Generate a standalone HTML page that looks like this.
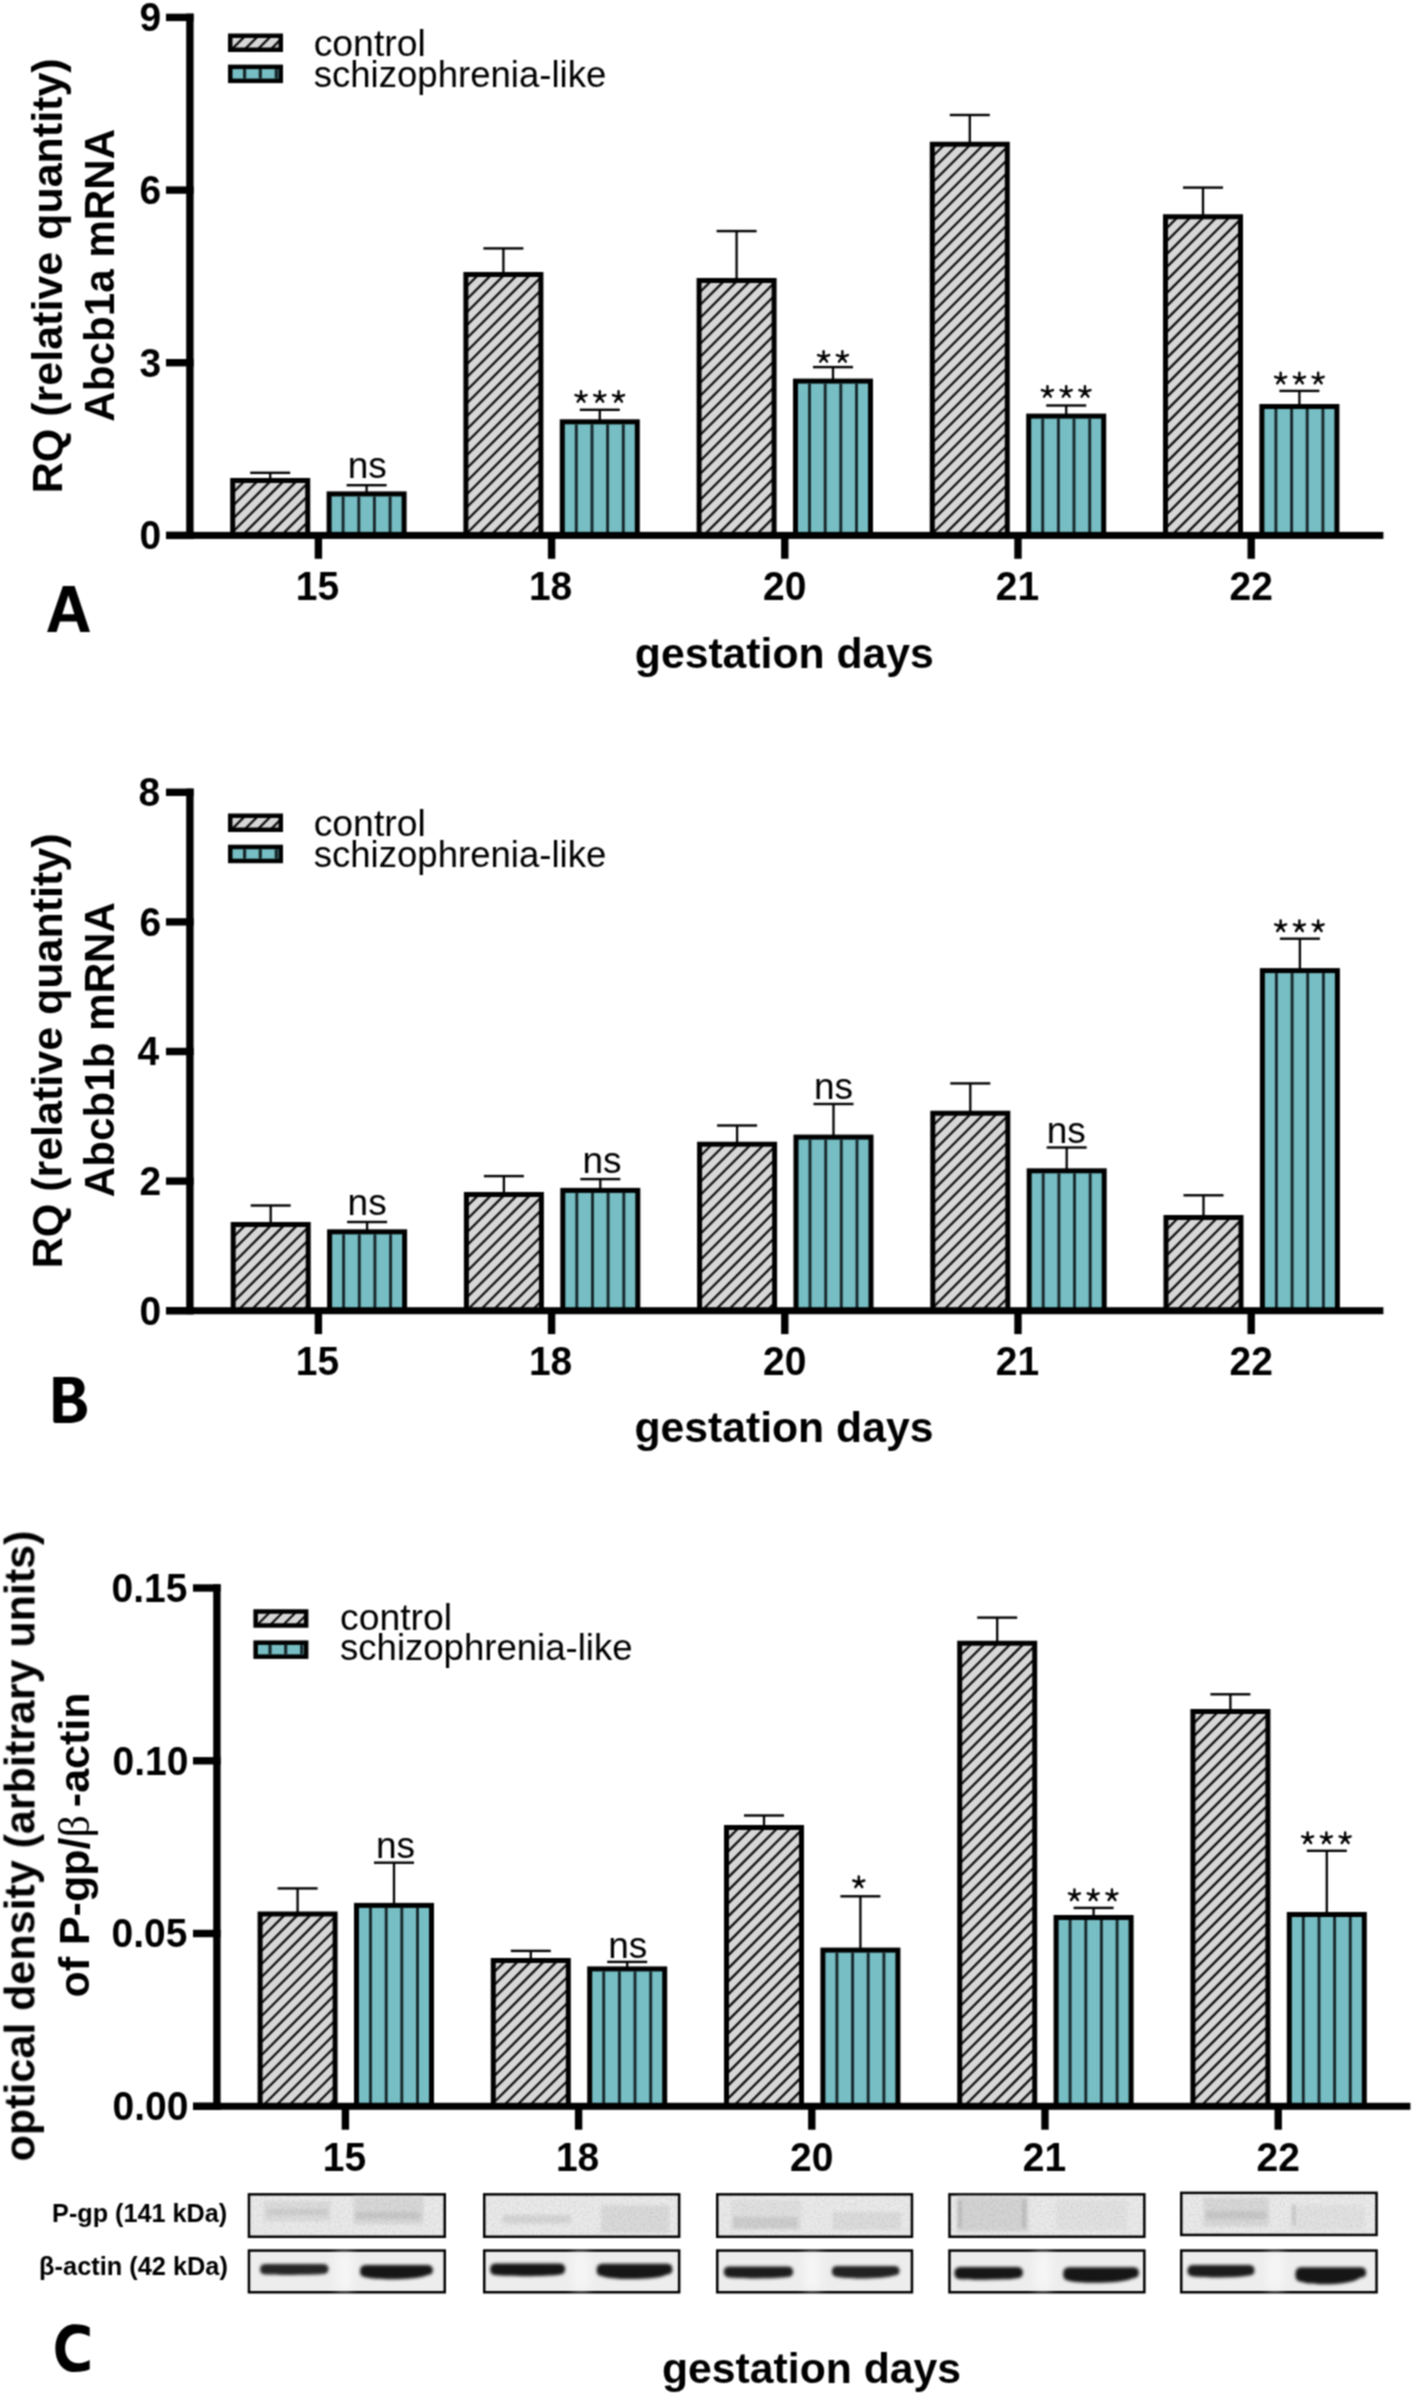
<!DOCTYPE html>
<html><head><meta charset="utf-8"><title>Abcb1 expression</title>
<style>html,body{margin:0;padding:0;background:#fff;} body{width:1414px;height:2396px;overflow:hidden;font-family:"Liberation Sans",sans-serif;} svg{display:block;}</style>
</head><body>
<svg width="1414" height="2396" viewBox="0 0 1414 2396"><defs><filter id="bb" x="-20%" y="-80%" width="140%" height="260%"><feGaussianBlur stdDeviation="1.6"/></filter><filter id="bw" x="-100%" y="-20%" width="300%" height="140%"><feGaussianBlur stdDeviation="4"/></filter><filter id="bl" x="-20%" y="-50%" width="140%" height="200%"><feGaussianBlur stdDeviation="1.8"/></filter><filter id="nz" x="0" y="0" width="100%" height="100%"><feTurbulence type="fractalNoise" baseFrequency="0.55" numOctaves="2" seed="7"/><feColorMatrix type="matrix" values="0 0 0 0 0  0 0 0 0 0  0 0 0 0 0  0 0 0 -2.2 1.25"/></filter><filter id="soft" x="0" y="0" width="1414" height="2396" filterUnits="userSpaceOnUse" color-interpolation-filters="sRGB"><feConvolveMatrix order="3" kernelMatrix="1 2 1 2 4 2 1 2 1" edgeMode="duplicate" preserveAlpha="false"/></filter></defs><rect width="1414" height="2396" fill="#ffffff"/><g filter="url(#soft)"><rect width="1414" height="2396" fill="#ffffff"/><rect x="269.05" y="472.8" width="2.3" height="6.1" fill="#000000"/>
<rect x="250.2" y="471.6" width="40" height="2.4" fill="#000000"/>
<rect x="234.2" y="481.9" width="72" height="53.5" fill="#d7d7d7"/>
<path d="M234.2,491.5L243.8,481.9M234.2,504.5L256.8,481.9M234.2,517.5L269.8,481.9M234.2,530.5L282.8,481.9M242.3,535.4L295.8,481.9M255.3,535.4L306.2,484.5M268.3,535.4L306.2,497.5M281.3,535.4L306.2,510.5M294.3,535.4L306.2,523.5" stroke="#111111" stroke-width="2.3" fill="none"/>
<path fill="#000000" d="M230.2,535.4V477.9H310.2V535.4H305.2V482.9H235.2V535.4Z"/>
<rect x="365.45" y="485.2" width="2.3" height="7.2" fill="#000000"/>
<rect x="346.6" y="484" width="40" height="2.4" fill="#000000"/>
<rect x="326.6" y="491.4" width="80" height="44" fill="#000000"/>
<rect x="331.6" y="496.4" width="70" height="39" fill="#76bec3"/>
<rect x="341.65" y="496.4" width="2.9" height="39" fill="#17262a"/>
<rect x="357.35" y="496.4" width="2.9" height="39" fill="#17262a"/>
<rect x="372.95" y="496.4" width="2.9" height="39" fill="#17262a"/>
<rect x="388.65" y="496.4" width="2.9" height="39" fill="#17262a"/>
<rect x="502.25" y="248.4" width="2.3" height="24.7" fill="#000000"/>
<rect x="483.4" y="247.2" width="40" height="2.4" fill="#000000"/>
<rect x="467.4" y="276.1" width="72" height="259.3" fill="#d7d7d7"/>
<path d="M467.4,285.7L477,276.1M467.4,298.7L490,276.1M467.4,311.7L503,276.1M467.4,324.7L516,276.1M467.4,337.7L529,276.1M467.4,350.7L539.4,278.7M467.4,363.7L539.4,291.7M467.4,376.7L539.4,304.7M467.4,389.7L539.4,317.7M467.4,402.7L539.4,330.7M467.4,415.7L539.4,343.7M467.4,428.7L539.4,356.7M467.4,441.7L539.4,369.7M467.4,454.7L539.4,382.7M467.4,467.7L539.4,395.7M467.4,480.7L539.4,408.7M467.4,493.7L539.4,421.7M467.4,506.7L539.4,434.7M467.4,519.7L539.4,447.7M467.4,532.7L539.4,460.7M477.7,535.4L539.4,473.7M490.7,535.4L539.4,486.7M503.7,535.4L539.4,499.7M516.7,535.4L539.4,512.7M529.7,535.4L539.4,525.7" stroke="#111111" stroke-width="2.3" fill="none"/>
<path fill="#000000" d="M463.4,535.4V272.1H543.4V535.4H538.4V277.1H468.4V535.4Z"/>
<rect x="598.65" y="409.8" width="2.3" height="10.5" fill="#000000"/>
<rect x="579.8" y="408.6" width="40" height="2.4" fill="#000000"/>
<rect x="559.8" y="419.3" width="80" height="116.1" fill="#000000"/>
<rect x="564.8" y="424.3" width="70" height="111.1" fill="#76bec3"/>
<rect x="574.85" y="424.3" width="2.9" height="111.1" fill="#17262a"/>
<rect x="590.55" y="424.3" width="2.9" height="111.1" fill="#17262a"/>
<rect x="606.15" y="424.3" width="2.9" height="111.1" fill="#17262a"/>
<rect x="621.85" y="424.3" width="2.9" height="111.1" fill="#17262a"/>
<rect x="735.45" y="231.1" width="2.3" height="47.8" fill="#000000"/>
<rect x="716.6" y="229.9" width="40" height="2.4" fill="#000000"/>
<rect x="700.6" y="281.9" width="72" height="253.5" fill="#d7d7d7"/>
<path d="M700.6,291.5L710.2,281.9M700.6,304.5L723.2,281.9M700.6,317.5L736.2,281.9M700.6,330.5L749.2,281.9M700.6,343.5L762.2,281.9M700.6,356.5L772.6,284.5M700.6,369.5L772.6,297.5M700.6,382.5L772.6,310.5M700.6,395.5L772.6,323.5M700.6,408.5L772.6,336.5M700.6,421.5L772.6,349.5M700.6,434.5L772.6,362.5M700.6,447.5L772.6,375.5M700.6,460.5L772.6,388.5M700.6,473.5L772.6,401.5M700.6,486.5L772.6,414.5M700.6,499.5L772.6,427.5M700.6,512.5L772.6,440.5M700.6,525.5L772.6,453.5M703.7,535.4L772.6,466.5M716.7,535.4L772.6,479.5M729.7,535.4L772.6,492.5M742.7,535.4L772.6,505.5M755.7,535.4L772.6,518.5M768.7,535.4L772.6,531.5" stroke="#111111" stroke-width="2.3" fill="none"/>
<path fill="#000000" d="M696.6,535.4V277.9H776.6V535.4H771.6V282.9H701.6V535.4Z"/>
<rect x="831.85" y="367.1" width="2.3" height="12.5" fill="#000000"/>
<rect x="813" y="365.9" width="40" height="2.4" fill="#000000"/>
<rect x="793" y="378.6" width="80" height="156.8" fill="#000000"/>
<rect x="798" y="383.6" width="70" height="151.8" fill="#76bec3"/>
<rect x="808.05" y="383.6" width="2.9" height="151.8" fill="#17262a"/>
<rect x="823.75" y="383.6" width="2.9" height="151.8" fill="#17262a"/>
<rect x="839.35" y="383.6" width="2.9" height="151.8" fill="#17262a"/>
<rect x="855.05" y="383.6" width="2.9" height="151.8" fill="#17262a"/>
<rect x="968.65" y="115" width="2.3" height="27.7" fill="#000000"/>
<rect x="949.8" y="113.8" width="40" height="2.4" fill="#000000"/>
<rect x="933.8" y="145.7" width="72" height="389.7" fill="#d7d7d7"/>
<path d="M933.8,155.3L943.4,145.7M933.8,168.3L956.4,145.7M933.8,181.3L969.4,145.7M933.8,194.3L982.4,145.7M933.8,207.3L995.4,145.7M933.8,220.3L1005.8,148.3M933.8,233.3L1005.8,161.3M933.8,246.3L1005.8,174.3M933.8,259.3L1005.8,187.3M933.8,272.3L1005.8,200.3M933.8,285.3L1005.8,213.3M933.8,298.3L1005.8,226.3M933.8,311.3L1005.8,239.3M933.8,324.3L1005.8,252.3M933.8,337.3L1005.8,265.3M933.8,350.3L1005.8,278.3M933.8,363.3L1005.8,291.3M933.8,376.3L1005.8,304.3M933.8,389.3L1005.8,317.3M933.8,402.3L1005.8,330.3M933.8,415.3L1005.8,343.3M933.8,428.3L1005.8,356.3M933.8,441.3L1005.8,369.3M933.8,454.3L1005.8,382.3M933.8,467.3L1005.8,395.3M933.8,480.3L1005.8,408.3M933.8,493.3L1005.8,421.3M933.8,506.3L1005.8,434.3M933.8,519.3L1005.8,447.3M933.8,532.3L1005.8,460.3M943.7,535.4L1005.8,473.3M956.7,535.4L1005.8,486.3M969.7,535.4L1005.8,499.3M982.7,535.4L1005.8,512.3M995.7,535.4L1005.8,525.3" stroke="#111111" stroke-width="2.3" fill="none"/>
<path fill="#000000" d="M929.8,535.4V141.7H1009.8V535.4H1004.8V146.7H934.8V535.4Z"/>
<rect x="1065.05" y="405.5" width="2.3" height="9.1" fill="#000000"/>
<rect x="1046.2" y="404.3" width="40" height="2.4" fill="#000000"/>
<rect x="1026.2" y="413.6" width="80" height="121.8" fill="#000000"/>
<rect x="1031.2" y="418.6" width="70" height="116.8" fill="#76bec3"/>
<rect x="1041.25" y="418.6" width="2.9" height="116.8" fill="#17262a"/>
<rect x="1056.95" y="418.6" width="2.9" height="116.8" fill="#17262a"/>
<rect x="1072.55" y="418.6" width="2.9" height="116.8" fill="#17262a"/>
<rect x="1088.25" y="418.6" width="2.9" height="116.8" fill="#17262a"/>
<rect x="1201.85" y="187.6" width="2.3" height="27.7" fill="#000000"/>
<rect x="1183" y="186.4" width="40" height="2.4" fill="#000000"/>
<rect x="1167" y="218.3" width="72" height="317.1" fill="#d7d7d7"/>
<path d="M1167,227.9L1176.6,218.3M1167,240.9L1189.6,218.3M1167,253.9L1202.6,218.3M1167,266.9L1215.6,218.3M1167,279.9L1228.6,218.3M1167,292.9L1239,220.9M1167,305.9L1239,233.9M1167,318.9L1239,246.9M1167,331.9L1239,259.9M1167,344.9L1239,272.9M1167,357.9L1239,285.9M1167,370.9L1239,298.9M1167,383.9L1239,311.9M1167,396.9L1239,324.9M1167,409.9L1239,337.9M1167,422.9L1239,350.9M1167,435.9L1239,363.9M1167,448.9L1239,376.9M1167,461.9L1239,389.9M1167,474.9L1239,402.9M1167,487.9L1239,415.9M1167,500.9L1239,428.9M1167,513.9L1239,441.9M1167,526.9L1239,454.9M1171.5,535.4L1239,467.9M1184.5,535.4L1239,480.9M1197.5,535.4L1239,493.9M1210.5,535.4L1239,506.9M1223.5,535.4L1239,519.9M1236.5,535.4L1239,532.9" stroke="#111111" stroke-width="2.3" fill="none"/>
<path fill="#000000" d="M1163,535.4V214.3H1243V535.4H1238V219.3H1168V535.4Z"/>
<rect x="1298.25" y="390.9" width="2.3" height="14.1" fill="#000000"/>
<rect x="1279.4" y="389.7" width="40" height="2.4" fill="#000000"/>
<rect x="1259.4" y="404" width="80" height="131.4" fill="#000000"/>
<rect x="1264.4" y="409" width="70" height="126.4" fill="#76bec3"/>
<rect x="1274.45" y="409" width="2.9" height="126.4" fill="#17262a"/>
<rect x="1290.15" y="409" width="2.9" height="126.4" fill="#17262a"/>
<rect x="1305.75" y="409" width="2.9" height="126.4" fill="#17262a"/>
<rect x="1321.45" y="409" width="2.9" height="126.4" fill="#17262a"/>
<rect x="186.2" y="13.6" width="7.4" height="525.3" fill="#000000"/>
<rect x="166" y="531.9" width="1217.4" height="7" fill="#000000"/>
<rect x="166" y="531.7" width="27.6" height="7.4" fill="#000000"/>
<text transform="translate(139.6,549.3) scale(1,1.04)" x="0" y="0" font-family="Liberation Sans" font-size="39" font-weight="bold" text-anchor="start" >0</text>
<rect x="166" y="359" width="27.6" height="7.4" fill="#000000"/>
<text transform="translate(139.6,376.6) scale(1,1.04)" x="0" y="0" font-family="Liberation Sans" font-size="39" font-weight="bold" text-anchor="start" >3</text>
<rect x="166" y="186.4" width="27.6" height="7.4" fill="#000000"/>
<text transform="translate(139.6,204) scale(1,1.04)" x="0" y="0" font-family="Liberation Sans" font-size="39" font-weight="bold" text-anchor="start" >6</text>
<rect x="166" y="13.7" width="27.6" height="7.4" fill="#000000"/>
<text transform="translate(139.6,31.3) scale(1,1.04)" x="0" y="0" font-family="Liberation Sans" font-size="39" font-weight="bold" text-anchor="start" >9</text>
<rect x="314.7" y="535.4" width="7.4" height="23.4" fill="#000000"/>
<text transform="translate(295.7,600) scale(1,1.035)" x="0" y="0" font-family="Liberation Sans" font-size="39" font-weight="bold" text-anchor="start" >15</text>
<rect x="547.9" y="535.4" width="7.4" height="23.4" fill="#000000"/>
<text transform="translate(528.9,600) scale(1,1.035)" x="0" y="0" font-family="Liberation Sans" font-size="39" font-weight="bold" text-anchor="start" >18</text>
<rect x="781.1" y="535.4" width="7.4" height="23.4" fill="#000000"/>
<text transform="translate(763.1,600) scale(1,1.035)" x="0" y="0" font-family="Liberation Sans" font-size="39" font-weight="bold" text-anchor="start" >20</text>
<rect x="1014.3" y="535.4" width="7.4" height="23.4" fill="#000000"/>
<text transform="translate(995.8,600) scale(1,1.035)" x="0" y="0" font-family="Liberation Sans" font-size="39" font-weight="bold" text-anchor="start" >21</text>
<rect x="1247.5" y="535.4" width="7.4" height="23.4" fill="#000000"/>
<text transform="translate(1229.5,600) scale(1,1.035)" x="0" y="0" font-family="Liberation Sans" font-size="39" font-weight="bold" text-anchor="start" >22</text>
<text x="347.8" y="478.3" font-family="Liberation Sans" font-size="37" font-weight="normal" text-anchor="start" >ns</text>
<path d="M581.05,396.93L581.05,391.12M581.05,396.93L586.57,395.13M581.05,396.93L575.53,395.13M581.05,396.93L584.46,401.62M581.05,396.93L577.64,401.62M599.8,396.93L599.8,391.12M599.8,396.93L605.32,395.13M599.8,396.93L594.28,395.13M599.8,396.93L603.21,401.62M599.8,396.93L596.39,401.62M618.55,396.93L618.55,391.12M618.55,396.93L624.07,395.13M618.55,396.93L613.03,395.13M618.55,396.93L621.96,401.62M618.55,396.93L615.14,401.62" stroke="#000" stroke-width="2.45" stroke-linecap="round" fill="none"/>
<path d="M823.62,356.93L823.62,351.12M823.62,356.93L829.14,355.13M823.62,356.93L818.11,355.13M823.62,356.93L827.03,361.62M823.62,356.93L820.22,361.62M842.38,356.93L842.38,351.12M842.38,356.93L847.89,355.13M842.38,356.93L836.86,355.13M842.38,356.93L845.78,361.62M842.38,356.93L838.97,361.62" stroke="#000" stroke-width="2.45" stroke-linecap="round" fill="none"/>
<path d="M1047.45,391.93L1047.45,386.12M1047.45,391.93L1052.97,390.13M1047.45,391.93L1041.93,390.13M1047.45,391.93L1050.86,396.62M1047.45,391.93L1044.04,396.62M1066.2,391.93L1066.2,386.12M1066.2,391.93L1071.72,390.13M1066.2,391.93L1060.68,390.13M1066.2,391.93L1069.61,396.62M1066.2,391.93L1062.79,396.62M1084.95,391.93L1084.95,386.12M1084.95,391.93L1090.47,390.13M1084.95,391.93L1079.43,390.13M1084.95,391.93L1088.36,396.62M1084.95,391.93L1081.54,396.62" stroke="#000" stroke-width="2.45" stroke-linecap="round" fill="none"/>
<path d="M1280.65,378.62L1280.65,372.82M1280.65,378.62L1286.17,376.83M1280.65,378.62L1275.13,376.83M1280.65,378.62L1284.06,383.32M1280.65,378.62L1277.24,383.32M1299.4,378.62L1299.4,372.82M1299.4,378.62L1304.92,376.83M1299.4,378.62L1293.88,376.83M1299.4,378.62L1302.81,383.32M1299.4,378.62L1295.99,383.32M1318.15,378.62L1318.15,372.82M1318.15,378.62L1323.67,376.83M1318.15,378.62L1312.63,376.83M1318.15,378.62L1321.56,383.32M1318.15,378.62L1314.74,383.32" stroke="#000" stroke-width="2.45" stroke-linecap="round" fill="none"/>
<rect x="231.5" y="37.1" width="48" height="11.5" fill="#d7d7d7"/>
<path d="M232.5,48.6L244,37.1M245.5,48.6L257,37.1M258.5,48.6L270,37.1M271.5,48.6L279.5,40.6" stroke="#111111" stroke-width="2.3" fill="none"/>
<path fill-rule="evenodd" fill="#000000" d="M228,33.6H283V52.1H228Z M232.5,38.1V47.6H278.5V38.1Z"/>
<rect x="228" y="64.6" width="55" height="18.5" fill="#000000"/>
<rect x="232.5" y="69.1" width="46" height="9.5" fill="#76bec3"/>
<rect x="243" y="69.1" width="3.2" height="9.5" fill="#17262a"/>
<rect x="258.7" y="69.1" width="3.2" height="9.5" fill="#17262a"/>
<rect x="274.7" y="69.1" width="3.2" height="9.5" fill="#17262a"/>
<text x="313.68" y="55.5" font-family="Liberation Sans" font-size="36.5" font-weight="normal" text-anchor="start"  textLength="112.1" lengthAdjust="spacingAndGlyphs">control</text>
<text x="313.7" y="86.8" font-family="Liberation Sans" font-size="36.5" font-weight="normal" text-anchor="start"  textLength="292.6" lengthAdjust="spacingAndGlyphs">schizophrenia-like</text>
<text transform="translate(62,493.2) rotate(-90)" x="0" y="0" font-family="Liberation Sans" font-size="43" font-weight="bold" >RQ (relative quantity)</text>
<text transform="translate(114,421.8) rotate(-90)" x="0" y="0" font-family="Liberation Sans" font-size="42.2" font-weight="bold" >Abcb1a mRNA</text>
<text x="634.8" y="667.7" font-family="Liberation Sans" font-size="43" font-weight="bold" text-anchor="start" textLength="299" lengthAdjust="spacingAndGlyphs">gestation days</text>
<path fill-rule="evenodd" fill="#000" d="M47.1,631.9 L62.9,586 L74.6,586 L90,631.9 L80.3,631.9 L76.8,621.4 L59.9,621.4 L56.6,631.9 Z M62.3,614.3 L68.4,595.2 L74.4,614.3 Z"/>
<rect x="269.55" y="1205.5" width="2.3" height="17.6" fill="#000000"/>
<rect x="250.7" y="1204.3" width="40" height="2.4" fill="#000000"/>
<rect x="234.7" y="1226.1" width="72" height="84.6" fill="#d7d7d7"/>
<path d="M234.7,1235.7L244.3,1226.1M234.7,1248.7L257.3,1226.1M234.7,1261.7L270.3,1226.1M234.7,1274.7L283.3,1226.1M234.7,1287.7L296.3,1226.1M234.7,1300.7L306.7,1228.7M237.7,1310.7L306.7,1241.7M250.7,1310.7L306.7,1254.7M263.7,1310.7L306.7,1267.7M276.7,1310.7L306.7,1280.7M289.7,1310.7L306.7,1293.7M302.7,1310.7L306.7,1306.7" stroke="#111111" stroke-width="2.3" fill="none"/>
<path fill="#000000" d="M230.7,1310.7V1222.1H310.7V1310.7H305.7V1227.1H235.7V1310.7Z"/>
<rect x="365.95" y="1222" width="2.3" height="8.3" fill="#000000"/>
<rect x="347.1" y="1220.8" width="40" height="2.4" fill="#000000"/>
<rect x="327.1" y="1229.3" width="80" height="81.4" fill="#000000"/>
<rect x="332.1" y="1234.3" width="70" height="76.4" fill="#76bec3"/>
<rect x="342.15" y="1234.3" width="2.9" height="76.4" fill="#17262a"/>
<rect x="357.85" y="1234.3" width="2.9" height="76.4" fill="#17262a"/>
<rect x="373.45" y="1234.3" width="2.9" height="76.4" fill="#17262a"/>
<rect x="389.15" y="1234.3" width="2.9" height="76.4" fill="#17262a"/>
<rect x="502.75" y="1176.1" width="2.3" height="16.8" fill="#000000"/>
<rect x="483.9" y="1174.9" width="40" height="2.4" fill="#000000"/>
<rect x="467.9" y="1195.9" width="72" height="114.8" fill="#d7d7d7"/>
<path d="M467.9,1205.5L477.5,1195.9M467.9,1218.5L490.5,1195.9M467.9,1231.5L503.5,1195.9M467.9,1244.5L516.5,1195.9M467.9,1257.5L529.5,1195.9M467.9,1270.5L539.9,1198.5M467.9,1283.5L539.9,1211.5M467.9,1296.5L539.9,1224.5M467.9,1309.5L539.9,1237.5M479.7,1310.7L539.9,1250.5M492.7,1310.7L539.9,1263.5M505.7,1310.7L539.9,1276.5M518.7,1310.7L539.9,1289.5M531.7,1310.7L539.9,1302.5" stroke="#111111" stroke-width="2.3" fill="none"/>
<path fill="#000000" d="M463.9,1310.7V1191.9H543.9V1310.7H538.9V1196.9H468.9V1310.7Z"/>
<rect x="599.15" y="1179.1" width="2.3" height="9.8" fill="#000000"/>
<rect x="580.3" y="1177.9" width="40" height="2.4" fill="#000000"/>
<rect x="560.3" y="1187.9" width="80" height="122.8" fill="#000000"/>
<rect x="565.3" y="1192.9" width="70" height="117.8" fill="#76bec3"/>
<rect x="575.35" y="1192.9" width="2.9" height="117.8" fill="#17262a"/>
<rect x="591.05" y="1192.9" width="2.9" height="117.8" fill="#17262a"/>
<rect x="606.65" y="1192.9" width="2.9" height="117.8" fill="#17262a"/>
<rect x="622.35" y="1192.9" width="2.9" height="117.8" fill="#17262a"/>
<rect x="735.95" y="1125.5" width="2.3" height="17.2" fill="#000000"/>
<rect x="717.1" y="1124.3" width="40" height="2.4" fill="#000000"/>
<rect x="701.1" y="1145.7" width="72" height="165" fill="#d7d7d7"/>
<path d="M701.1,1155.3L710.7,1145.7M701.1,1168.3L723.7,1145.7M701.1,1181.3L736.7,1145.7M701.1,1194.3L749.7,1145.7M701.1,1207.3L762.7,1145.7M701.1,1220.3L773.1,1148.3M701.1,1233.3L773.1,1161.3M701.1,1246.3L773.1,1174.3M701.1,1259.3L773.1,1187.3M701.1,1272.3L773.1,1200.3M701.1,1285.3L773.1,1213.3M701.1,1298.3L773.1,1226.3M701.7,1310.7L773.1,1239.3M714.7,1310.7L773.1,1252.3M727.7,1310.7L773.1,1265.3M740.7,1310.7L773.1,1278.3M753.7,1310.7L773.1,1291.3M766.7,1310.7L773.1,1304.3" stroke="#111111" stroke-width="2.3" fill="none"/>
<path fill="#000000" d="M697.1,1310.7V1141.7H777.1V1310.7H772.1V1146.7H702.1V1310.7Z"/>
<rect x="832.35" y="1104" width="2.3" height="31.6" fill="#000000"/>
<rect x="813.5" y="1102.8" width="40" height="2.4" fill="#000000"/>
<rect x="793.5" y="1134.6" width="80" height="176.1" fill="#000000"/>
<rect x="798.5" y="1139.6" width="70" height="171.1" fill="#76bec3"/>
<rect x="808.55" y="1139.6" width="2.9" height="171.1" fill="#17262a"/>
<rect x="824.25" y="1139.6" width="2.9" height="171.1" fill="#17262a"/>
<rect x="839.85" y="1139.6" width="2.9" height="171.1" fill="#17262a"/>
<rect x="855.55" y="1139.6" width="2.9" height="171.1" fill="#17262a"/>
<rect x="969.15" y="1083.4" width="2.3" height="28.3" fill="#000000"/>
<rect x="950.3" y="1082.2" width="40" height="2.4" fill="#000000"/>
<rect x="934.3" y="1114.7" width="72" height="196" fill="#d7d7d7"/>
<path d="M934.3,1124.3L943.9,1114.7M934.3,1137.3L956.9,1114.7M934.3,1150.3L969.9,1114.7M934.3,1163.3L982.9,1114.7M934.3,1176.3L995.9,1114.7M934.3,1189.3L1006.3,1117.3M934.3,1202.3L1006.3,1130.3M934.3,1215.3L1006.3,1143.3M934.3,1228.3L1006.3,1156.3M934.3,1241.3L1006.3,1169.3M934.3,1254.3L1006.3,1182.3M934.3,1267.3L1006.3,1195.3M934.3,1280.3L1006.3,1208.3M934.3,1293.3L1006.3,1221.3M934.3,1306.3L1006.3,1234.3M942.9,1310.7L1006.3,1247.3M955.9,1310.7L1006.3,1260.3M968.9,1310.7L1006.3,1273.3M981.9,1310.7L1006.3,1286.3M994.9,1310.7L1006.3,1299.3" stroke="#111111" stroke-width="2.3" fill="none"/>
<path fill="#000000" d="M930.3,1310.7V1110.7H1010.3V1310.7H1005.3V1115.7H935.3V1310.7Z"/>
<rect x="1065.55" y="1147.5" width="2.3" height="21.8" fill="#000000"/>
<rect x="1046.7" y="1146.3" width="40" height="2.4" fill="#000000"/>
<rect x="1026.7" y="1168.3" width="80" height="142.4" fill="#000000"/>
<rect x="1031.7" y="1173.3" width="70" height="137.4" fill="#76bec3"/>
<rect x="1041.75" y="1173.3" width="2.9" height="137.4" fill="#17262a"/>
<rect x="1057.45" y="1173.3" width="2.9" height="137.4" fill="#17262a"/>
<rect x="1073.05" y="1173.3" width="2.9" height="137.4" fill="#17262a"/>
<rect x="1088.75" y="1173.3" width="2.9" height="137.4" fill="#17262a"/>
<rect x="1202.35" y="1195.3" width="2.3" height="20.7" fill="#000000"/>
<rect x="1183.5" y="1194.1" width="40" height="2.4" fill="#000000"/>
<rect x="1167.5" y="1219" width="72" height="91.7" fill="#d7d7d7"/>
<path d="M1167.5,1228.6L1177.1,1219M1167.5,1241.6L1190.1,1219M1167.5,1254.6L1203.1,1219M1167.5,1267.6L1216.1,1219M1167.5,1280.6L1229.1,1219M1167.5,1293.6L1239.5,1221.6M1167.5,1306.6L1239.5,1234.6M1176.4,1310.7L1239.5,1247.6M1189.4,1310.7L1239.5,1260.6M1202.4,1310.7L1239.5,1273.6M1215.4,1310.7L1239.5,1286.6M1228.4,1310.7L1239.5,1299.6" stroke="#111111" stroke-width="2.3" fill="none"/>
<path fill="#000000" d="M1163.5,1310.7V1215H1243.5V1310.7H1238.5V1220H1168.5V1310.7Z"/>
<rect x="1298.75" y="938.7" width="2.3" height="30.4" fill="#000000"/>
<rect x="1279.9" y="937.5" width="40" height="2.4" fill="#000000"/>
<rect x="1259.9" y="968.1" width="80" height="342.6" fill="#000000"/>
<rect x="1264.9" y="973.1" width="70" height="337.6" fill="#76bec3"/>
<rect x="1274.95" y="973.1" width="2.9" height="337.6" fill="#17262a"/>
<rect x="1290.65" y="973.1" width="2.9" height="337.6" fill="#17262a"/>
<rect x="1306.25" y="973.1" width="2.9" height="337.6" fill="#17262a"/>
<rect x="1321.95" y="973.1" width="2.9" height="337.6" fill="#17262a"/>
<rect x="186.2" y="788.6" width="7.4" height="525.6" fill="#000000"/>
<rect x="166" y="1307.2" width="1217.4" height="7" fill="#000000"/>
<rect x="166" y="1307" width="27.6" height="7.4" fill="#000000"/>
<text transform="translate(139.6,1324.6) scale(1,1.04)" x="0" y="0" font-family="Liberation Sans" font-size="39" font-weight="bold" text-anchor="start" >0</text>
<rect x="166" y="1177.4" width="27.6" height="7.4" fill="#000000"/>
<text transform="translate(139.6,1195) scale(1,1.04)" x="0" y="0" font-family="Liberation Sans" font-size="39" font-weight="bold" text-anchor="start" >2</text>
<rect x="166" y="1047.8" width="27.6" height="7.4" fill="#000000"/>
<text transform="translate(137.6,1065.4) scale(1,1.04)" x="0" y="0" font-family="Liberation Sans" font-size="39" font-weight="bold" text-anchor="start" >4</text>
<rect x="166" y="918.2" width="27.6" height="7.4" fill="#000000"/>
<text transform="translate(139.6,935.8) scale(1,1.04)" x="0" y="0" font-family="Liberation Sans" font-size="39" font-weight="bold" text-anchor="start" >6</text>
<rect x="166" y="788.6" width="27.6" height="7.4" fill="#000000"/>
<text transform="translate(138.6,806.2) scale(1,1.04)" x="0" y="0" font-family="Liberation Sans" font-size="39" font-weight="bold" text-anchor="start" >8</text>
<rect x="314.7" y="1310.7" width="7.4" height="23.4" fill="#000000"/>
<text transform="translate(295.7,1375.3) scale(1,1.035)" x="0" y="0" font-family="Liberation Sans" font-size="39" font-weight="bold" text-anchor="start" >15</text>
<rect x="547.9" y="1310.7" width="7.4" height="23.4" fill="#000000"/>
<text transform="translate(528.9,1375.3) scale(1,1.035)" x="0" y="0" font-family="Liberation Sans" font-size="39" font-weight="bold" text-anchor="start" >18</text>
<rect x="781.1" y="1310.7" width="7.4" height="23.4" fill="#000000"/>
<text transform="translate(763.1,1375.3) scale(1,1.035)" x="0" y="0" font-family="Liberation Sans" font-size="39" font-weight="bold" text-anchor="start" >20</text>
<rect x="1014.3" y="1310.7" width="7.4" height="23.4" fill="#000000"/>
<text transform="translate(995.8,1375.3) scale(1,1.035)" x="0" y="0" font-family="Liberation Sans" font-size="39" font-weight="bold" text-anchor="start" >21</text>
<rect x="1247.5" y="1310.7" width="7.4" height="23.4" fill="#000000"/>
<text transform="translate(1229.5,1375.3) scale(1,1.035)" x="0" y="0" font-family="Liberation Sans" font-size="39" font-weight="bold" text-anchor="start" >22</text>
<text x="347.6" y="1215.4" font-family="Liberation Sans" font-size="37" font-weight="normal" text-anchor="start" >ns</text>
<text x="582.4" y="1172.6" font-family="Liberation Sans" font-size="37" font-weight="normal" text-anchor="start" >ns</text>
<text x="814" y="1098.9" font-family="Liberation Sans" font-size="37" font-weight="normal" text-anchor="start" >ns</text>
<text x="1046.7" y="1143.1" font-family="Liberation Sans" font-size="37" font-weight="normal" text-anchor="start" >ns</text>
<path d="M1280.65,926.22L1280.65,920.42M1280.65,926.22L1286.17,924.43M1280.65,926.22L1275.13,924.43M1280.65,926.22L1284.06,930.92M1280.65,926.22L1277.24,930.92M1299.4,926.22L1299.4,920.42M1299.4,926.22L1304.92,924.43M1299.4,926.22L1293.88,924.43M1299.4,926.22L1302.81,930.92M1299.4,926.22L1295.99,930.92M1318.15,926.22L1318.15,920.42M1318.15,926.22L1323.67,924.43M1318.15,926.22L1312.63,924.43M1318.15,926.22L1321.56,930.92M1318.15,926.22L1314.74,930.92" stroke="#000" stroke-width="2.45" stroke-linecap="round" fill="none"/>
<rect x="231.5" y="817.1" width="48" height="11.5" fill="#d7d7d7"/>
<path d="M232.5,828.6L244,817.1M245.5,828.6L257,817.1M258.5,828.6L270,817.1M271.5,828.6L279.5,820.6" stroke="#111111" stroke-width="2.3" fill="none"/>
<path fill-rule="evenodd" fill="#000000" d="M228,813.6H283V832.1H228Z M232.5,818.1V827.6H278.5V818.1Z"/>
<rect x="228" y="844.7" width="55" height="18.5" fill="#000000"/>
<rect x="232.5" y="849.2" width="46" height="9.5" fill="#76bec3"/>
<rect x="243" y="849.2" width="3.2" height="9.5" fill="#17262a"/>
<rect x="258.7" y="849.2" width="3.2" height="9.5" fill="#17262a"/>
<rect x="274.7" y="849.2" width="3.2" height="9.5" fill="#17262a"/>
<text x="313.68" y="835.5" font-family="Liberation Sans" font-size="36.5" font-weight="normal" text-anchor="start"  textLength="112.1" lengthAdjust="spacingAndGlyphs">control</text>
<text x="313.7" y="866.8" font-family="Liberation Sans" font-size="36.5" font-weight="normal" text-anchor="start"  textLength="292.6" lengthAdjust="spacingAndGlyphs">schizophrenia-like</text>
<text transform="translate(62,1268.3) rotate(-90)" x="0" y="0" font-family="Liberation Sans" font-size="43" font-weight="bold" >RQ (relative quantity)</text>
<text transform="translate(114,1197.3) rotate(-90)" x="0" y="0" font-family="Liberation Sans" font-size="42.2" font-weight="bold" >Abcb1b mRNA</text>
<text x="634.4" y="1442.4" font-family="Liberation Sans" font-size="43" font-weight="bold" text-anchor="start" textLength="299" lengthAdjust="spacingAndGlyphs">gestation days</text>
<path fill-rule="evenodd" fill="#000" d="M53.3,1376.9 L71,1376.9 C80,1376.9 84.6,1381.3 84.6,1388.3 C84.6,1393.3 81.6,1396.8 77.6,1398.3 C83.3,1399.5 87,1403.7 87,1409.6 C87,1417.6 81,1422.9 71,1422.9 L55.5,1422.9 Q53.3,1422.9 53.3,1420.7 Z M62.6,1384 L69.6,1384 C73,1384 74.8,1386 74.8,1389.6 C74.8,1393.3 72.6,1395.6 68.8,1395.6 L62.6,1395.6 Z M62.6,1403 L70.3,1403 C74.6,1403 77.3,1405.4 77.3,1409.2 C77.3,1413.1 74.6,1415.7 70.3,1415.7 L62.6,1415.7 Z"/>
<rect x="296.45" y="1888.4" width="2.3" height="24" fill="#000000"/>
<rect x="277.6" y="1887.2" width="40" height="2.4" fill="#000000"/>
<rect x="261.6" y="1915.4" width="72" height="190.9" fill="#d7d7d7"/>
<path d="M261.6,1925L271.2,1915.4M261.6,1938L284.2,1915.4M261.6,1951L297.2,1915.4M261.6,1964L310.2,1915.4M261.6,1977L323.2,1915.4M261.6,1990L333.6,1918M261.6,2003L333.6,1931M261.6,2016L333.6,1944M261.6,2029L333.6,1957M261.6,2042L333.6,1970M261.6,2055L333.6,1983M261.6,2068L333.6,1996M261.6,2081L333.6,2009M261.6,2094L333.6,2022M262.3,2106.3L333.6,2035M275.3,2106.3L333.6,2048M288.3,2106.3L333.6,2061M301.3,2106.3L333.6,2074M314.3,2106.3L333.6,2087M327.3,2106.3L333.6,2100" stroke="#111111" stroke-width="2.3" fill="none"/>
<path fill="#000000" d="M257.6,2106.3V1911.4H337.6V2106.3H332.6V1916.4H262.6V2106.3Z"/>
<rect x="392.85" y="1862.7" width="2.3" height="41.2" fill="#000000"/>
<rect x="374" y="1861.5" width="40" height="2.4" fill="#000000"/>
<rect x="354" y="1902.9" width="80" height="203.4" fill="#000000"/>
<rect x="359" y="1907.9" width="70" height="198.4" fill="#76bec3"/>
<rect x="369.05" y="1907.9" width="2.9" height="198.4" fill="#17262a"/>
<rect x="384.75" y="1907.9" width="2.9" height="198.4" fill="#17262a"/>
<rect x="400.35" y="1907.9" width="2.9" height="198.4" fill="#17262a"/>
<rect x="416.05" y="1907.9" width="2.9" height="198.4" fill="#17262a"/>
<rect x="529.65" y="1950.9" width="2.3" height="8" fill="#000000"/>
<rect x="510.8" y="1949.7" width="40" height="2.4" fill="#000000"/>
<rect x="494.8" y="1961.9" width="72" height="144.4" fill="#d7d7d7"/>
<path d="M494.8,1971.5L504.4,1961.9M494.8,1984.5L517.4,1961.9M494.8,1997.5L530.4,1961.9M494.8,2010.5L543.4,1961.9M494.8,2023.5L556.4,1961.9M494.8,2036.5L566.8,1964.5M494.8,2049.5L566.8,1977.5M494.8,2062.5L566.8,1990.5M494.8,2075.5L566.8,2003.5M494.8,2088.5L566.8,2016.5M494.8,2101.5L566.8,2029.5M503,2106.3L566.8,2042.5M516,2106.3L566.8,2055.5M529,2106.3L566.8,2068.5M542,2106.3L566.8,2081.5M555,2106.3L566.8,2094.5" stroke="#111111" stroke-width="2.3" fill="none"/>
<path fill="#000000" d="M490.8,2106.3V1957.9H570.8V2106.3H565.8V1962.9H495.8V2106.3Z"/>
<rect x="626.05" y="1961.9" width="2.3" height="5.5" fill="#000000"/>
<rect x="607.2" y="1960.7" width="40" height="2.4" fill="#000000"/>
<rect x="587.2" y="1966.4" width="80" height="139.9" fill="#000000"/>
<rect x="592.2" y="1971.4" width="70" height="134.9" fill="#76bec3"/>
<rect x="602.25" y="1971.4" width="2.9" height="134.9" fill="#17262a"/>
<rect x="617.95" y="1971.4" width="2.9" height="134.9" fill="#17262a"/>
<rect x="633.55" y="1971.4" width="2.9" height="134.9" fill="#17262a"/>
<rect x="649.25" y="1971.4" width="2.9" height="134.9" fill="#17262a"/>
<rect x="762.85" y="1815.5" width="2.3" height="10.5" fill="#000000"/>
<rect x="744" y="1814.3" width="40" height="2.4" fill="#000000"/>
<rect x="728" y="1829" width="72" height="277.3" fill="#d7d7d7"/>
<path d="M728,1838.6L737.6,1829M728,1851.6L750.6,1829M728,1864.6L763.6,1829M728,1877.6L776.6,1829M728,1890.6L789.6,1829M728,1903.6L800,1831.6M728,1916.6L800,1844.6M728,1929.6L800,1857.6M728,1942.6L800,1870.6M728,1955.6L800,1883.6M728,1968.6L800,1896.6M728,1981.6L800,1909.6M728,1994.6L800,1922.6M728,2007.6L800,1935.6M728,2020.6L800,1948.6M728,2033.6L800,1961.6M728,2046.6L800,1974.6M728,2059.6L800,1987.6M728,2072.6L800,2000.6M728,2085.6L800,2013.6M728,2098.6L800,2026.6M733.3,2106.3L800,2039.6M746.3,2106.3L800,2052.6M759.3,2106.3L800,2065.6M772.3,2106.3L800,2078.6M785.3,2106.3L800,2091.6M798.3,2106.3L800,2104.6" stroke="#111111" stroke-width="2.3" fill="none"/>
<path fill="#000000" d="M724,2106.3V1825H804V2106.3H799V1830H729V2106.3Z"/>
<rect x="859.25" y="1896.3" width="2.3" height="52.3" fill="#000000"/>
<rect x="840.4" y="1895.1" width="40" height="2.4" fill="#000000"/>
<rect x="820.4" y="1947.6" width="80" height="158.7" fill="#000000"/>
<rect x="825.4" y="1952.6" width="70" height="153.7" fill="#76bec3"/>
<rect x="835.45" y="1952.6" width="2.9" height="153.7" fill="#17262a"/>
<rect x="851.15" y="1952.6" width="2.9" height="153.7" fill="#17262a"/>
<rect x="866.75" y="1952.6" width="2.9" height="153.7" fill="#17262a"/>
<rect x="882.45" y="1952.6" width="2.9" height="153.7" fill="#17262a"/>
<rect x="996.05" y="1617.6" width="2.3" height="24.1" fill="#000000"/>
<rect x="977.2" y="1616.4" width="40" height="2.4" fill="#000000"/>
<rect x="961.2" y="1644.7" width="72" height="461.6" fill="#d7d7d7"/>
<path d="M961.2,1654.3L970.8,1644.7M961.2,1667.3L983.8,1644.7M961.2,1680.3L996.8,1644.7M961.2,1693.3L1009.8,1644.7M961.2,1706.3L1022.8,1644.7M961.2,1719.3L1033.2,1647.3M961.2,1732.3L1033.2,1660.3M961.2,1745.3L1033.2,1673.3M961.2,1758.3L1033.2,1686.3M961.2,1771.3L1033.2,1699.3M961.2,1784.3L1033.2,1712.3M961.2,1797.3L1033.2,1725.3M961.2,1810.3L1033.2,1738.3M961.2,1823.3L1033.2,1751.3M961.2,1836.3L1033.2,1764.3M961.2,1849.3L1033.2,1777.3M961.2,1862.3L1033.2,1790.3M961.2,1875.3L1033.2,1803.3M961.2,1888.3L1033.2,1816.3M961.2,1901.3L1033.2,1829.3M961.2,1914.3L1033.2,1842.3M961.2,1927.3L1033.2,1855.3M961.2,1940.3L1033.2,1868.3M961.2,1953.3L1033.2,1881.3M961.2,1966.3L1033.2,1894.3M961.2,1979.3L1033.2,1907.3M961.2,1992.3L1033.2,1920.3M961.2,2005.3L1033.2,1933.3M961.2,2018.3L1033.2,1946.3M961.2,2031.3L1033.2,1959.3M961.2,2044.3L1033.2,1972.3M961.2,2057.3L1033.2,1985.3M961.2,2070.3L1033.2,1998.3M961.2,2083.3L1033.2,2011.3M961.2,2096.3L1033.2,2024.3M964.2,2106.3L1033.2,2037.3M977.2,2106.3L1033.2,2050.3M990.2,2106.3L1033.2,2063.3M1003.2,2106.3L1033.2,2076.3M1016.2,2106.3L1033.2,2089.3M1029.2,2106.3L1033.2,2102.3" stroke="#111111" stroke-width="2.3" fill="none"/>
<path fill="#000000" d="M957.2,2106.3V1640.7H1037.2V2106.3H1032.2V1645.7H962.2V2106.3Z"/>
<rect x="1092.45" y="1907.9" width="2.3" height="8.1" fill="#000000"/>
<rect x="1073.6" y="1906.7" width="40" height="2.4" fill="#000000"/>
<rect x="1053.6" y="1915" width="80" height="191.3" fill="#000000"/>
<rect x="1058.6" y="1920" width="70" height="186.3" fill="#76bec3"/>
<rect x="1068.65" y="1920" width="2.9" height="186.3" fill="#17262a"/>
<rect x="1084.35" y="1920" width="2.9" height="186.3" fill="#17262a"/>
<rect x="1099.95" y="1920" width="2.9" height="186.3" fill="#17262a"/>
<rect x="1115.65" y="1920" width="2.9" height="186.3" fill="#17262a"/>
<rect x="1229.25" y="1694.3" width="2.3" height="15.7" fill="#000000"/>
<rect x="1210.4" y="1693.1" width="40" height="2.4" fill="#000000"/>
<rect x="1194.4" y="1713" width="72" height="393.3" fill="#d7d7d7"/>
<path d="M1194.4,1722.6L1204,1713M1194.4,1735.6L1217,1713M1194.4,1748.6L1230,1713M1194.4,1761.6L1243,1713M1194.4,1774.6L1256,1713M1194.4,1787.6L1266.4,1715.6M1194.4,1800.6L1266.4,1728.6M1194.4,1813.6L1266.4,1741.6M1194.4,1826.6L1266.4,1754.6M1194.4,1839.6L1266.4,1767.6M1194.4,1852.6L1266.4,1780.6M1194.4,1865.6L1266.4,1793.6M1194.4,1878.6L1266.4,1806.6M1194.4,1891.6L1266.4,1819.6M1194.4,1904.6L1266.4,1832.6M1194.4,1917.6L1266.4,1845.6M1194.4,1930.6L1266.4,1858.6M1194.4,1943.6L1266.4,1871.6M1194.4,1956.6L1266.4,1884.6M1194.4,1969.6L1266.4,1897.6M1194.4,1982.6L1266.4,1910.6M1194.4,1995.6L1266.4,1923.6M1194.4,2008.6L1266.4,1936.6M1194.4,2021.6L1266.4,1949.6M1194.4,2034.6L1266.4,1962.6M1194.4,2047.6L1266.4,1975.6M1194.4,2060.6L1266.4,1988.6M1194.4,2073.6L1266.4,2001.6M1194.4,2086.6L1266.4,2014.6M1194.4,2099.6L1266.4,2027.6M1200.7,2106.3L1266.4,2040.6M1213.7,2106.3L1266.4,2053.6M1226.7,2106.3L1266.4,2066.6M1239.7,2106.3L1266.4,2079.6M1252.7,2106.3L1266.4,2092.6M1265.7,2106.3L1266.4,2105.6" stroke="#111111" stroke-width="2.3" fill="none"/>
<path fill="#000000" d="M1190.4,2106.3V1709H1270.4V2106.3H1265.4V1714H1195.4V2106.3Z"/>
<rect x="1325.65" y="1850.8" width="2.3" height="62.2" fill="#000000"/>
<rect x="1306.8" y="1849.6" width="40" height="2.4" fill="#000000"/>
<rect x="1286.8" y="1912" width="80" height="194.3" fill="#000000"/>
<rect x="1291.8" y="1917" width="70" height="189.3" fill="#76bec3"/>
<rect x="1301.85" y="1917" width="2.9" height="189.3" fill="#17262a"/>
<rect x="1317.55" y="1917" width="2.9" height="189.3" fill="#17262a"/>
<rect x="1333.15" y="1917" width="2.9" height="189.3" fill="#17262a"/>
<rect x="1348.85" y="1917" width="2.9" height="189.3" fill="#17262a"/>
<rect x="213.2" y="1584.3" width="7.4" height="525.5" fill="#000000"/>
<rect x="193" y="2102.8" width="1217.4" height="7" fill="#000000"/>
<rect x="193" y="2102.6" width="27.6" height="7.4" fill="#000000"/>
<text transform="translate(112.6,2120.2) scale(1,1.04)" x="0" y="0" font-family="Liberation Sans" font-size="39" font-weight="bold" text-anchor="start" >0.00</text>
<rect x="193" y="1929.8" width="27.6" height="7.4" fill="#000000"/>
<text transform="translate(111.6,1947.4) scale(1,1.04)" x="0" y="0" font-family="Liberation Sans" font-size="39" font-weight="bold" text-anchor="start" >0.05</text>
<rect x="193" y="1757.1" width="27.6" height="7.4" fill="#000000"/>
<text transform="translate(112.6,1774.7) scale(1,1.04)" x="0" y="0" font-family="Liberation Sans" font-size="39" font-weight="bold" text-anchor="start" >0.10</text>
<rect x="193" y="1584.3" width="27.6" height="7.4" fill="#000000"/>
<text transform="translate(111.6,1601.9) scale(1,1.04)" x="0" y="0" font-family="Liberation Sans" font-size="39" font-weight="bold" text-anchor="start" >0.15</text>
<rect x="341.7" y="2106.3" width="7.4" height="23.4" fill="#000000"/>
<text transform="translate(322.7,2170.9) scale(1,1.035)" x="0" y="0" font-family="Liberation Sans" font-size="39" font-weight="bold" text-anchor="start" >15</text>
<rect x="574.9" y="2106.3" width="7.4" height="23.4" fill="#000000"/>
<text transform="translate(555.9,2170.9) scale(1,1.035)" x="0" y="0" font-family="Liberation Sans" font-size="39" font-weight="bold" text-anchor="start" >18</text>
<rect x="808.1" y="2106.3" width="7.4" height="23.4" fill="#000000"/>
<text transform="translate(790.1,2170.9) scale(1,1.035)" x="0" y="0" font-family="Liberation Sans" font-size="39" font-weight="bold" text-anchor="start" >20</text>
<rect x="1041.3" y="2106.3" width="7.4" height="23.4" fill="#000000"/>
<text transform="translate(1022.8,2170.9) scale(1,1.035)" x="0" y="0" font-family="Liberation Sans" font-size="39" font-weight="bold" text-anchor="start" >21</text>
<rect x="1274.5" y="2106.3" width="7.4" height="23.4" fill="#000000"/>
<text transform="translate(1256.5,2170.9) scale(1,1.035)" x="0" y="0" font-family="Liberation Sans" font-size="39" font-weight="bold" text-anchor="start" >22</text>
<text x="375.9" y="1858.3" font-family="Liberation Sans" font-size="37" font-weight="normal" text-anchor="start" >ns</text>
<text x="608.3" y="1958.3" font-family="Liberation Sans" font-size="37" font-weight="normal" text-anchor="start" >ns</text>
<path d="M858.8,1882.33L858.8,1876.53M858.8,1882.33L864.32,1880.53M858.8,1882.33L853.28,1880.53M858.8,1882.33L862.21,1887.02M858.8,1882.33L855.39,1887.02" stroke="#000" stroke-width="2.45" stroke-linecap="round" fill="none"/>
<path d="M1074.45,1895.22L1074.45,1889.42M1074.45,1895.22L1079.97,1893.43M1074.45,1895.22L1068.93,1893.43M1074.45,1895.22L1077.86,1899.92M1074.45,1895.22L1071.04,1899.92M1093.2,1895.22L1093.2,1889.42M1093.2,1895.22L1098.72,1893.43M1093.2,1895.22L1087.68,1893.43M1093.2,1895.22L1096.61,1899.92M1093.2,1895.22L1089.79,1899.92M1111.95,1895.22L1111.95,1889.42M1111.95,1895.22L1117.47,1893.43M1111.95,1895.22L1106.43,1893.43M1111.95,1895.22L1115.36,1899.92M1111.95,1895.22L1108.54,1899.92" stroke="#000" stroke-width="2.45" stroke-linecap="round" fill="none"/>
<path d="M1307.65,1838.22L1307.65,1832.42M1307.65,1838.22L1313.17,1836.43M1307.65,1838.22L1302.13,1836.43M1307.65,1838.22L1311.06,1842.92M1307.65,1838.22L1304.24,1842.92M1326.4,1838.22L1326.4,1832.42M1326.4,1838.22L1331.92,1836.43M1326.4,1838.22L1320.88,1836.43M1326.4,1838.22L1329.81,1842.92M1326.4,1838.22L1322.99,1842.92M1345.15,1838.22L1345.15,1832.42M1345.15,1838.22L1350.67,1836.43M1345.15,1838.22L1339.63,1836.43M1345.15,1838.22L1348.56,1842.92M1345.15,1838.22L1341.74,1842.92" stroke="#000" stroke-width="2.45" stroke-linecap="round" fill="none"/>
<rect x="256.9" y="1612.8" width="48" height="11.5" fill="#d7d7d7"/>
<path d="M257.9,1624.3L269.4,1612.8M270.9,1624.3L282.4,1612.8M283.9,1624.3L295.4,1612.8M296.9,1624.3L304.9,1616.3" stroke="#111111" stroke-width="2.3" fill="none"/>
<path fill-rule="evenodd" fill="#000000" d="M253.4,1609.3H308.4V1627.8H253.4Z M257.9,1613.8V1623.3H303.9V1613.8Z"/>
<rect x="253.4" y="1640.4" width="55" height="18.5" fill="#000000"/>
<rect x="257.9" y="1644.9" width="46" height="9.5" fill="#76bec3"/>
<rect x="268.4" y="1644.9" width="3.2" height="9.5" fill="#17262a"/>
<rect x="284.1" y="1644.9" width="3.2" height="9.5" fill="#17262a"/>
<rect x="300.1" y="1644.9" width="3.2" height="9.5" fill="#17262a"/>
<text x="339.98" y="1630" font-family="Liberation Sans" font-size="36.5" font-weight="normal" text-anchor="start"  textLength="112.1" lengthAdjust="spacingAndGlyphs">control</text>
<text x="340" y="1660.3" font-family="Liberation Sans" font-size="36.5" font-weight="normal" text-anchor="start"  textLength="292.6" lengthAdjust="spacingAndGlyphs">schizophrenia-like</text>
<text transform="translate(34.5,2161.4) rotate(-90)" x="0" y="0" font-family="Liberation Sans" font-size="43" font-weight="bold" >optical density (arbitrary units)</text>
<text transform="translate(89,1997.6) rotate(-90)" x="0" y="0" font-family="Liberation Sans" font-size="43" font-weight="bold">of P-gp/<tspan font-family="Liberation Serif" font-weight="normal" font-size="44">β</tspan><tspan dx="8">-actin</tspan></text>
<text x="662" y="2382.9" font-family="Liberation Sans" font-size="43" font-weight="bold" text-anchor="start" textLength="299" lengthAdjust="spacingAndGlyphs">gestation days</text>
<path fill="#000" d="M89.7,2327.4 C86,2325.2 80.5,2324.3 74.6,2324.3 C63.6,2324.3 55.4,2334.3 55.4,2348.4 C55.4,2362.5 63.4,2372.1 74.4,2372.1 C80.6,2372.1 86,2371.1 89.7,2369.3 L89.7,2359.9 C86.5,2361.8 82.6,2363.2 78.6,2363.2 C70.6,2363.2 65.1,2357.6 65.1,2348.3 C65.1,2339.1 70.6,2333.2 78.6,2333.2 C82.6,2333.2 86.5,2334.6 89.7,2336.6 Z"/>
<text x="52.12" y="2221.6" font-family="Liberation Sans" font-size="25.5" font-weight="bold" text-anchor="start"  textLength="175.0" lengthAdjust="spacingAndGlyphs">P-gp (141 kDa)</text>
<text x="39.11" y="2275" font-family="Liberation Sans" font-size="25.5" font-weight="bold" text-anchor="start"  textLength="188.8" lengthAdjust="spacingAndGlyphs">β-actin (42 kDa)</text>
<rect x="247.7" y="2193.1" width="198.3" height="44.9" fill="#000000"/>
<rect x="250.2" y="2195.6" width="193.3" height="39.9" fill="#eaeaea"/>
<rect x="263.8" y="2201" width="66.7" height="20.3" fill="rgb(220,220,220)" filter="url(#bl)"/>
<rect x="353.7" y="2196.7" width="69.6" height="27.5" fill="rgb(216,216,216)" filter="url(#bl)"/>
<rect x="268" y="2209" width="60" height="6" fill="rgb(206,206,206)" filter="url(#bl)"/>
<rect x="356" y="2212" width="64" height="7" fill="rgb(200,200,200)" filter="url(#bl)"/>
<rect x="250.2" y="2195.6" width="193.3" height="39.9" fill="#000" opacity="0.10" filter="url(#nz)"/>
<rect x="247.7" y="2249.3" width="198.3" height="44.2" fill="#000000"/>
<rect x="250.2" y="2251.8" width="193.3" height="39.2" fill="#ededed"/>
<rect x="336.25" y="2253.8" width="16" height="35.2" fill="#f6f6f6" filter="url(#bw)"/>
<path d="M266,2264.1 L322.5,2264.1 Q328.5,2264.1 328.5,2269.05 Q328.5,2274 322.5,2274 C314.8,2275.12 273.7,2275.12 266,2274.5 Q260,2274.5 260,2269.3 Q260,2264.1 266,2264.1 Z" fill="#262626" filter="url(#bb)"/>
<path d="M366,2264.9 L426.9,2264.9 Q432.9,2264.9 432.9,2270.1 Q432.9,2275.3 426.9,2275.3 C418.32,2280.17 374.58,2280.17 366,2277.3 Q360,2277.3 360,2271.1 Q360,2264.9 366,2264.9 Z" fill="#151515" filter="url(#bb)"/>
<rect x="483" y="2193.1" width="197.4" height="44.9" fill="#000000"/>
<rect x="485.5" y="2195.6" width="192.4" height="39.9" fill="#eaeaea"/>
<rect x="502.6" y="2214.8" width="68.2" height="8.7" fill="rgb(214,214,214)" filter="url(#bl)"/>
<rect x="601.2" y="2205.4" width="68.1" height="27.6" fill="rgb(218,218,218)" filter="url(#bl)"/>
<rect x="485.5" y="2195.6" width="192.4" height="39.9" fill="#000" opacity="0.10" filter="url(#nz)"/>
<rect x="483" y="2249.3" width="197.4" height="44.2" fill="#000000"/>
<rect x="485.5" y="2251.8" width="192.4" height="39.2" fill="#ededed"/>
<rect x="572.9" y="2253.8" width="16" height="35.2" fill="#f6f6f6" filter="url(#bw)"/>
<path d="M496.1,2263.4 L559.2,2263.4 Q565.2,2263.4 565.2,2269.1 Q565.2,2274.8 559.2,2274.8 C550.18,2276.58 505.12,2276.58 496.1,2275.3 Q490.1,2275.3 490.1,2269.35 Q490.1,2263.4 496.1,2263.4 Z" fill="#191919" filter="url(#bb)"/>
<path d="M602.6,2263.8 L666.4,2263.8 Q672.4,2263.8 672.4,2269.25 Q672.4,2274.7 666.4,2274.7 C657.24,2280.18 611.76,2280.18 602.6,2276.2 Q596.6,2276.2 596.6,2270 Q596.6,2263.8 602.6,2263.8 Z" fill="#171717" filter="url(#bb)"/>
<rect x="716" y="2193.1" width="197.2" height="44.9" fill="#000000"/>
<rect x="718.5" y="2195.6" width="192.2" height="39.9" fill="#eaeaea"/>
<rect x="731.3" y="2200" width="69.6" height="30" fill="rgb(224,224,224)" filter="url(#bl)"/>
<rect x="733" y="2217" width="65" height="11.6" fill="rgb(206,206,206)" filter="url(#bl)"/>
<rect x="832.7" y="2212" width="68.2" height="18" fill="rgb(220,220,220)" filter="url(#bl)"/>
<rect x="718.5" y="2195.6" width="192.2" height="39.9" fill="#000" opacity="0.10" filter="url(#nz)"/>
<rect x="716" y="2249.3" width="197.2" height="44.2" fill="#000000"/>
<rect x="718.5" y="2251.8" width="192.2" height="39.2" fill="#ededed"/>
<rect x="804.45" y="2253.8" width="16" height="35.2" fill="#f6f6f6" filter="url(#bw)"/>
<path d="M729.8,2266.6 L787.1,2266.6 Q793.1,2266.6 793.1,2271.8 Q793.1,2277 787.1,2277 C779.24,2278.78 737.66,2278.78 729.8,2277.5 Q723.8,2277.5 723.8,2272.05 Q723.8,2266.6 729.8,2266.6 Z" fill="#1f1f1f" filter="url(#bb)"/>
<path d="M837.8,2266.1 L893.6,2266.1 Q899.6,2266.1 899.6,2270.8 Q899.6,2275.5 893.6,2275.5 C886.04,2279.12 845.36,2279.12 837.8,2277 Q831.8,2277 831.8,2271.55 Q831.8,2266.1 837.8,2266.1 Z" fill="#232323" filter="url(#bb)"/>
<rect x="948.2" y="2193.1" width="197.4" height="44.9" fill="#000000"/>
<rect x="950.7" y="2195.6" width="192.4" height="39.9" fill="#eaeaea"/>
<rect x="956.8" y="2196.7" width="71.7" height="34.8" fill="rgb(212,212,212)" filter="url(#bl)"/>
<rect x="1056" y="2200" width="71" height="30" fill="rgb(226,226,226)" filter="url(#bl)"/>
<rect x="958" y="2200" width="4" height="28" fill="rgb(190,190,190)" filter="url(#bl)"/>
<rect x="1022" y="2200" width="4" height="28" fill="rgb(190,190,190)" filter="url(#bl)"/>
<rect x="950.7" y="2195.6" width="192.4" height="39.9" fill="#000" opacity="0.10" filter="url(#nz)"/>
<rect x="948.2" y="2249.3" width="197.4" height="44.2" fill="#000000"/>
<rect x="950.7" y="2251.8" width="192.4" height="39.2" fill="#ededed"/>
<rect x="1035" y="2253.8" width="16" height="35.2" fill="#f6f6f6" filter="url(#bw)"/>
<path d="M960.4,2266.9 L1016.9,2266.9 Q1022.9,2266.9 1022.9,2272.6 Q1022.9,2278.3 1016.9,2278.3 C1009.2,2280 968.1,2280 960.4,2279.3 Q954.4,2279.3 954.4,2273.1 Q954.4,2266.9 960.4,2266.9 Z" fill="#191919" filter="url(#bb)"/>
<path d="M1069.1,2267.3 L1132.9,2267.3 Q1138.9,2267.3 1138.9,2272.75 Q1138.9,2278.2 1132.9,2278.2 C1123.74,2283.78 1078.26,2283.78 1069.1,2280.7 Q1063.1,2280.7 1063.1,2274 Q1063.1,2267.3 1069.1,2267.3 Z" fill="#151515" filter="url(#bb)"/>
<rect x="1180" y="2191.6" width="197.8" height="44.6" fill="#000000"/>
<rect x="1182.5" y="2194.1" width="192.8" height="39.6" fill="#eaeaea"/>
<rect x="1203.5" y="2197.6" width="65.3" height="29" fill="rgb(216,216,216)" filter="url(#bl)"/>
<rect x="1206" y="2211" width="60" height="8" fill="rgb(200,200,200)" filter="url(#bl)"/>
<rect x="1290.5" y="2205" width="73.9" height="25" fill="rgb(226,226,226)" filter="url(#bl)"/>
<rect x="1292.5" y="2205" width="3" height="20" fill="rgb(196,196,196)" filter="url(#bl)"/>
<rect x="1182.5" y="2194.1" width="192.8" height="39.6" fill="#000" opacity="0.10" filter="url(#nz)"/>
<rect x="1180" y="2249.3" width="197.8" height="44.2" fill="#000000"/>
<rect x="1182.5" y="2251.8" width="192.8" height="39.2" fill="#ededed"/>
<rect x="1266.9" y="2253.8" width="16" height="35.2" fill="#f6f6f6" filter="url(#bw)"/>
<path d="M1193.4,2265.1 L1248.5,2265.1 Q1254.5,2265.1 1254.5,2270.3 Q1254.5,2275.5 1248.5,2275.5 C1241.08,2277.87 1200.82,2277.87 1193.4,2276.5 Q1187.4,2276.5 1187.4,2270.8 Q1187.4,2265.1 1193.4,2265.1 Z" fill="#1e1e1e" filter="url(#bb)"/>
<path d="M1301.3,2267.3 L1360.1,2267.3 Q1366.1,2267.3 1366.1,2272.5 Q1366.1,2277.7 1360.1,2277.7 C1351.94,2285.57 1309.46,2285.57 1301.3,2281.7 Q1295.3,2281.7 1295.3,2274.5 Q1295.3,2267.3 1301.3,2267.3 Z" fill="#121212" filter="url(#bb)"/></g></svg>
</body></html>
